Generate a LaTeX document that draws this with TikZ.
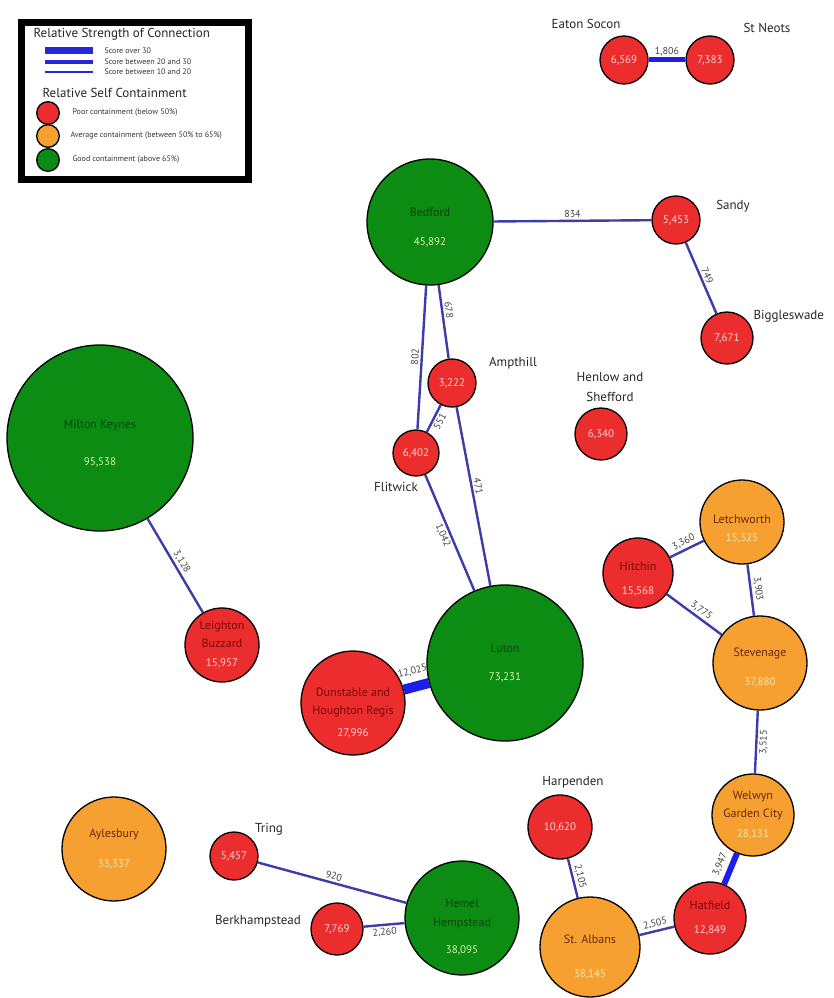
\documentclass[tikz,border=0pt]{standalone}
\usepackage{xcolor}
\usepackage{amsmath}
\usepackage{fontspec}
\setmainfont{PT Sans}
\usepackage{tikz}
\usetikzlibrary{calc,shapes}

\definecolor{poorred}{RGB}{236,45,45}
\definecolor{avgorange}{RGB}{247,160,50}
\definecolor{goodgreen}{RGB}{12,140,18}
\definecolor{poortxt}{RGB}{120,10,10}
\definecolor{poornum}{RGB}{255,210,210}
\definecolor{avgtxt}{RGB}{105,40,10}
\definecolor{avgnum}{RGB}{255,232,175}
\definecolor{goodtxt}{RGB}{10,70,10}
\definecolor{goodnum}{RGB}{212,245,170}
\definecolor{linkblue}{RGB}{60,60,170}
\definecolor{strongblue}{RGB}{30,30,235}
\definecolor{keyblue}{RGB}{40,40,215}

\newcommand{\numtxt}[2]{{\color{#1num}\fontsize{11}{11}\selectfont #2}}
\newcommand{\nametxt}[2]{{\color{#1txt}#2}}
\newcommand{\dropby}[1]{\rule{0pt}{#1}}

\tikzset{
  town/.style={circle, draw=black, line width=1.3pt, inner sep=-8pt, align=center,
    font=\fontsize{12}{14}\selectfont},
  poor/.style={town, fill=poorred},
  avg/.style={town, fill=avgorange},
  good/.style={town, fill=goodgreen},
  link/.style={draw=linkblue, line width=2.4pt},
  flow/.style={font=\fontsize{10}{10}\selectfont, text=black!75, sloped, midway, inner sep=2pt},
  place/.style={font=\fontsize{13}{13}\selectfont, text=black!85},
  keytext/.style={anchor=west, font=\fontsize{8}{8}\selectfont, text=black!80},
  keyhead/.style={anchor=west, font=\fontsize{13}{13}\selectfont, text=black!85},
}

\begin{document}
\begin{tikzpicture}[x=1pt,y=-1pt]
      \path[use as bounding box] (0,0) rectangle (834,998); % adjust to fit

      % key
      \draw[line width=7pt] (21.5,22.5) rectangle (248.5,179.5);
      \node[keyhead] (keyhead1) at (30,34) {Relative Strength of Connection};
      \coordinate (k1a) at (45,51); \coordinate (k1b) at (93,51);
      \coordinate (k2a) at (45,62); \coordinate (k2b) at (93,62);
      \coordinate (k3a) at (45,72); \coordinate (k3b) at (93,72);
      \draw[keyblue, line width=7pt] (k1a) -- (k1b);
      \draw[keyblue, line width=4pt] (k2a) -- (k2b);
      \draw[keyblue, line width=2pt] (k3a) -- (k3b);
      \node[keytext] (keyover) at (101,51) {Score over 30};
      \node[keytext] (keymid) at (101,62) {Score between 20 and 30};
      \node[keytext] (keylow) at (101,72) {Score between 10 and 20};
      \node[keyhead] (keyhead2) at (39,93) {Relative Self Containment};
      \node[poor, minimum size=22pt] (keypoor) at (48,113) {};
      \node[avg, minimum size=22pt] (keyavg) at (48,136) {};
      \node[good, minimum size=22pt] (keygood) at (48,160) {};
      \node[keytext, font=\fontsize{8}{8}\selectfont] (keypoortxt) at (69,113) {Poor containment (below 50\%)};
      \node[keytext, font=\fontsize{8}{8}\selectfont] (keyavgtxt) at (67,136) {Average containment (between 50\% to 65\%)};
      \node[keytext, font=\fontsize{8}{8}\selectfont] (keygoodtxt) at (69,160) {Good containment (above 65\%)};

      % towns
      \node[poor, minimum size=48pt] (eaton) at (624,60) {\numtxt{poor}{6,569}};
      \node[poor, minimum size=48pt] (stneots) at (710,60) {\numtxt{poor}{7,383}};
      \node[good, minimum size=126pt] (bedford) at (430,222) {\dropby{19pt}\nametxt{good}{Bedford}\\[15pt]\numtxt{good}{45,892}};
      \node[poor, minimum size=48pt] (sandy) at (676,220) {\numtxt{poor}{5,453}};
      \node[poor, minimum size=52pt] (biggleswade) at (727,338) {\numtxt{poor}{7,671}};
      \node[poor, minimum size=48pt] (ampthill) at (452,383) {\numtxt{poor}{3,222}};
      \node[poor, minimum size=46pt] (flitwick) at (416,453) {\numtxt{poor}{6,402}};
      \node[poor, minimum size=52pt] (henlow) at (601,434) {\numtxt{poor}{6,340}};
      \node[good, minimum size=186pt] (miltonkeynes) at (100,438) {\dropby{19pt}\nametxt{good}{Milton Keynes}\\[23pt]\numtxt{good}{95,538}};
      \node[poor, minimum size=74pt] (leighton) at (222,645) {\nametxt{poor}{Leighton}\\[4pt]\nametxt{poor}{Buzzard}\\[5pt]\numtxt{poor}{15,957}};
      \node[good, minimum size=156pt] (luton) at (505,663) {\nametxt{good}{Luton}\\[14pt]\numtxt{good}{73,231}};
      \node[poor, minimum size=104pt] (dunstable) at (353,703) {\dropby{29pt}\nametxt{poor}{Dunstable and}\\[4pt]\nametxt{poor}{Houghton Regis}\\[8pt]\numtxt{poor}{27,996}};
      \node[poor, minimum size=70pt] (hitchin) at (638,573) {\dropby{21pt}\nametxt{poor}{Hitchin}\\[10pt]\numtxt{poor}{15,568}};
      \node[avg, minimum size=84pt] (letchworth) at (742,522) {\dropby{23pt}\nametxt{avg}{Letchworth}\\[4pt]\numtxt{avg}{15,325}};
      \node[avg, minimum size=94pt] (stevenage) at (760,663) {\dropby{17pt}\nametxt{avg}{Stevenage}\\[15pt]\numtxt{avg}{37,880}};
      \node[avg, minimum size=82pt] (welwyn) at (753,815) {\nametxt{avg}{Welwyn}\\[4pt]\nametxt{avg}{Garden City}\\[6pt]\numtxt{avg}{28,131}};
      \node[poor, minimum size=64pt] (harpenden) at (560,827) {\numtxt{poor}{10,620}};
      \node[avg, minimum size=100pt] (stalbans) at (590,947) {\dropby{29pt}\nametxt{avg}{St. Albans}\\[20pt]\numtxt{avg}{38,145}};
      \node[poor, minimum size=72pt] (hatfield) at (710,918) {\nametxt{poor}{Hatfield}\\[10pt]\numtxt{poor}{12,849}};
      \node[avg, minimum size=104pt] (aylesbury) at (114,849) {\nametxt{avg}{Aylesbury}\\[16pt]\numtxt{avg}{33,337}};
      \node[poor, minimum size=48pt] (tring) at (234,856) {\numtxt{poor}{5,457}};
      \node[poor, minimum size=52pt] (berkhampstead) at (337,929) {\numtxt{poor}{7,769}};
      \node[good, minimum size=114pt] (hemel) at (462,918) {\dropby{27pt}\nametxt{good}{Hemel}\\[5pt]\nametxt{good}{Hempstead}\\[13pt]\numtxt{good}{38,095}};

      % names beside the circles
      \node[place] (eatonname) at (586,24) {Eaton Socon};
      \node[place] (stneotsname) at (767,28) {St Neots};
      \node[place] (sandyname) at (733,206) {Sandy};
      \node[place, anchor=west] (bigglesname) at (750,316) {Biggleswade};
      \node[place] (ampthillname) at (513,363) {Ampthill};
      \node[place, align=center, font=\fontsize{13}{20}\selectfont] (henlowname) at (610,387) {Henlow and\\Shefford};
      \node[place] (flitwickname) at (396,487) {Flitwick};
      \node[place] (harpendenname) at (573,782) {Harpenden};
      \node[place] (tringname) at (269,829) {Tring};
      \node[place] (berkname) at (258,921) {Berkhampstead};

      % connections
      \draw[link, draw=strongblue, line width=5pt] (eaton) -- node[flow, above] (f1) {1,806} (stneots);
      \draw[link] (bedford) -- node[flow, above] (f2) {834} (sandy);
      \draw[link] (sandy) -- node[flow, above] (f3) {749} (biggleswade);
      \draw[link] (bedford) -- node[flow, above] (f4) {802} (flitwick);
      \draw[link] (bedford) -- node[flow, above, pos=0.35] (f5) {678} (ampthill);
      \draw[link] (ampthill) -- node[flow, below] (f6) {551} (flitwick);
      \draw[link] (ampthill) -- node[flow, above, pos=0.45] (f7) {471} (luton);
      \draw[link] (flitwick) -- node[flow, below] (f8) {1,042} (luton);
      \draw[link] (miltonkeynes) -- node[flow, above] (f9) {3,128} (leighton);
      \draw[link, draw=strongblue, line width=10pt] (dunstable) -- node[flow, above=4pt] (f10) {12,025} (luton);
      \draw[link] (hitchin) -- node[flow, above] (f11) {3,360} (letchworth);
      \draw[link] (letchworth) -- node[flow, above] (f12) {3,903} (stevenage);
      \draw[link] (hitchin) -- node[flow, above, pos=0.55] (f13) {3,775} (stevenage);
      \draw[link] (stevenage) -- node[flow, below] (f14) {3,515} (welwyn);
      \draw[link, draw=strongblue, line width=6pt] (welwyn) -- node[flow, above=2pt] (f15) {3,947} (hatfield);
      \draw[link] (harpenden) -- node[flow, above] (f16) {2,105} (stalbans);
      \draw[link] (stalbans) -- node[flow, above] (f17) {2,505} (hatfield);
      \draw[link] (tring) -- node[flow, above] (f18) {920} (hemel);
      \draw[link] (berkhampstead) -- node[flow, below] (f19) {2,260} (hemel);
    \end{tikzpicture}
\end{document}
